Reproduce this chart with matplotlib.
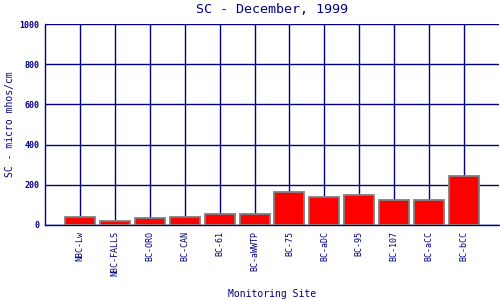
import numpy as np
import matplotlib
matplotlib.use("Agg")
import matplotlib.pyplot as plt

sites = ["NBC-Lw", "NBC-FALLS", "BC-ORO", "BC-CAN", "BC-61", "BC-aWWTP",
         "BC-75", "BC-aDC", "BC-95", "BC-107", "BC-aCC", "BC-bCC"]
sc_values = [40, 20, 35, 40, 55, 55, 162, 137, 149, 122, 122, 243]
y_ticks = [0, 200, 400, 600, 800, 1000]

navy = "#000080"
plt.rcParams['font.family'] = ['DejaVu Sans Mono']

fig = plt.figure(figsize=(5, 3), dpi=100)
ax = fig.add_axes([0.09, 0.25, 0.908, 0.67])

x = np.arange(len(sites))
ax.set_axisbelow(True)
ax.bar(x, sc_values, width=0.86, color="#ff0000", edgecolor="#808080",
       linewidth=1.3, zorder=3)

ax.set_xlim(-1, len(sites))
ax.set_ylim(0, 1000)
ax.set_xticks(x)
ax.set_xticklabels(sites, rotation=90, fontsize=6, color=navy)
ax.set_yticks(y_ticks)
ax.set_yticklabels([str(v) for v in y_ticks], fontsize=6, color=navy,
                   fontweight="bold")
ax.tick_params(length=0, pad=4)
ax.grid(True, color=navy, linewidth=1.0)
for side in ["top", "right"]:
    ax.spines[side].set_visible(False)
for side in ["left", "bottom"]:
    ax.spines[side].set_color(navy)
    ax.spines[side].set_linewidth(1.0)

ax.set_title("SC - December, 1999", fontsize=9.6, color=navy, pad=8)
ax.set_xlabel("Monitoring Site", fontsize=7, color=navy, labelpad=10)
ax.set_ylabel("SC - micro mhos/cm", fontsize=7, color=navy, labelpad=3)

fig.savefig("out.png", dpi=100)
